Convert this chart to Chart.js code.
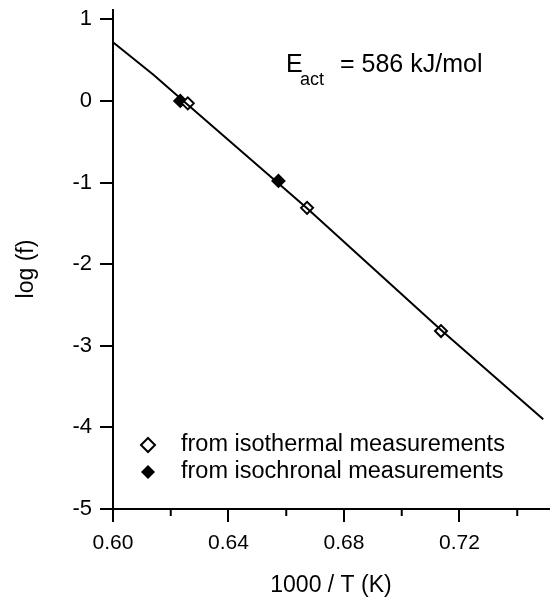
<!DOCTYPE html>
<html lang="en">
<head>
  <meta charset="UTF-8" />
  <title>Arrhenius plot</title>
  <script src="https://cdn.jsdelivr.net/npm/chart.js"></script>
  <style>
    body {
      margin: 0;
      padding: 0;
      background: #fff;
    }

    .chart-container {
      width: 557px;
      height: 601px;
      position: relative;
    }
  </style>
</head>
<body>

  <div class="chart-container"><canvas id="arrheniusChart"></canvas></div>

  <script>
    // fitted line
    const fitX = [0.600, 0.614, 0.625, 0.667, 0.714, 0.749];
    const fitY = [0.72, 0.32, -0.02, -1.31, -2.82, -3.90];

    // isothermal measurements (open diamonds)
    const isoThermX = [0.6259, 0.6672, 0.7136];
    const isoThermY = [-0.03, -1.31, -2.82];

    // isochronal measurements (filled diamonds)
    const isoChronX = [0.6233, 0.6573];
    const isoChronY = [0.00, -0.98];

    const xMajorTicks = [0.60, 0.64, 0.68, 0.72];
    const xMinorTicks = [0.62, 0.66, 0.70, 0.74];
    const yTicks = [-5, -4, -3, -2, -1, 0, 1];

    const FONT = "'Liberation Sans', Arial, Helvetica, sans-serif";

    function toPoints(xs, ys) {
      return xs.map((x, i) => ({ x: x, y: ys[i] }));
    }

    // minor x ticks, y title, annotation and legend drawn on top
    const extras = {
      id: 'extras',
      afterDraw(chart) {
        const ctx = chart.ctx;
        const xs = chart.scales.x;
        const bottom = chart.chartArea.bottom;
        ctx.save();
        ctx.strokeStyle = '#000';
        ctx.lineWidth = 2;
        xMinorTicks.forEach(v => {
          const px = xs.getPixelForValue(v);
          ctx.beginPath();
          ctx.moveTo(px, bottom);
          ctx.lineTo(px, bottom + 7);
          ctx.stroke();
        });

        // y axis title
        ctx.fillStyle = '#000';
        ctx.save();
        ctx.translate(27, 269);
        ctx.rotate(-Math.PI / 2);
        ctx.font = '23px ' + FONT;
        ctx.textAlign = 'center';
        ctx.textBaseline = 'middle';
        ctx.fillText('log (f)', 0, 0);
        ctx.restore();

        // activation energy
        ctx.textAlign = 'left';
        ctx.textBaseline = 'alphabetic';
        ctx.font = '25px ' + FONT;
        ctx.fillText('E', 286, 72);
        ctx.font = '18px ' + FONT;
        ctx.fillText('act', 300, 85);
        ctx.font = '25px ' + FONT;
        ctx.fillText('= 586 kJ/mol', 340, 72);

        // legend
        const rows = [
          { label: chart.data.datasets[1].label, filled: false, y: 445 },
          { label: chart.data.datasets[2].label, filled: true, y: 472 }
        ];
        rows.forEach(r => {
          ctx.beginPath();
          ctx.moveTo(148, r.y - 7);
          ctx.lineTo(155, r.y);
          ctx.lineTo(148, r.y + 7);
          ctx.lineTo(141, r.y);
          ctx.closePath();
          if (r.filled) {
            ctx.fill();
          } else {
            ctx.fillStyle = '#fff';
            ctx.fill();
            ctx.fillStyle = '#000';
            ctx.stroke();
          }
          ctx.font = '23.5px ' + FONT;
          ctx.textBaseline = 'middle';
          ctx.fillText(r.label, 181, r.y);
        });
        ctx.restore();
      }
    };

    new Chart(document.getElementById('arrheniusChart').getContext('2d'), {
      type: 'scatter',
      data: {
        datasets: [
          {
            label: 'fit',
            data: toPoints(fitX, fitY),
            showLine: true,
            borderColor: '#000',
            borderWidth: 2,
            pointRadius: 0,
            tension: 0
          },
          {
            label: 'from isothermal measurements',
            data: toPoints(isoThermX, isoThermY),
            pointStyle: 'rectRot',
            pointRadius: 6,
            borderColor: '#000',
            backgroundColor: '#fff',
            borderWidth: 2
          },
          {
            label: 'from isochronal measurements',
            data: toPoints(isoChronX, isoChronY),
            pointStyle: 'rectRot',
            pointRadius: 6,
            borderColor: '#000',
            backgroundColor: '#000',
            borderWidth: 2
          }
        ]
      },
      options: {
        responsive: true,
        maintainAspectRatio: false,
        animation: false,
        layout: { padding: { top: 10, right: 0, left: 0, bottom: 0 } },
        scales: {
          x: {
            type: 'linear',
            min: 0.60,
            max: 0.751,
            afterBuildTicks: s => { s.ticks = xMajorTicks.map(v => ({ value: v })); },
            afterFit: s => { s.height = 92; s.paddingLeft = 0; s.paddingRight = 0; },
            border: { color: '#000', width: 2 },
            grid: { drawOnChartArea: false, color: '#000', lineWidth: 2, tickLength: 13 },
            ticks: {
              color: '#000',
              font: { family: FONT, size: 21 },
              padding: 9,
              maxRotation: 0,
              callback: v => v.toFixed(2)
            },
            title: {
              display: true,
              text: '1000 / T (K)',
              color: '#000',
              font: { family: FONT, size: 23 },
              padding: { top: 0, bottom: 2 }
            }
          },
          y: {
            type: 'linear',
            min: -5,
            max: 1.114,
            afterBuildTicks: s => { s.ticks = yTicks.map(v => ({ value: v })); },
            afterFit: s => { s.width = 113; s.paddingTop = 0; s.paddingBottom = 0; },
            border: { color: '#000', width: 2 },
            grid: { drawOnChartArea: false, color: '#000', lineWidth: 2, tickLength: 13 },
            ticks: {
              color: '#000',
              font: { family: FONT, size: 22 },
              padding: 8,
              callback: v => String(v)
            }
          }
        },
        plugins: {
          legend: { display: false },
          tooltip: { enabled: false }
        }
      },
      plugins: [extras]
    });
  </script>

</body>
</html>
